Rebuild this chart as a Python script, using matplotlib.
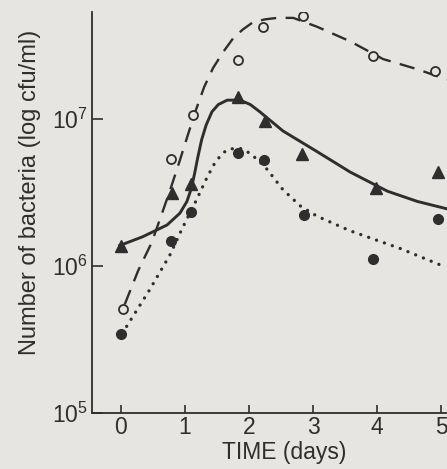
import numpy as np
import matplotlib
matplotlib.use("Agg")
from matplotlib import pyplot as plt

plt.rcParams['font.family'] = ['Liberation Sans', 'DejaVu Sans']
plt.rcParams['mathtext.default'] = 'regular'

# measured points (days, log10 cfu/ml)
t_open = [0.03, 0.78, 1.13, 1.83, 2.22, 2.85, 3.94, 4.9]
log_open = [5.71, 6.73, 7.03, 7.40, 7.63, 7.70, 7.43, 7.33]

t_tri = [0.0, 0.8, 1.09, 1.83, 2.25, 2.83, 3.98, 4.95]
log_tri = [6.14, 6.50, 6.56, 7.15, 6.99, 6.76, 6.53, 6.64]

t_dot = [0.0, 0.78, 1.1, 1.83, 2.23, 2.86, 3.94, 4.95]
log_dot = [5.54, 6.17, 6.37, 6.77, 6.72, 6.35, 6.05, 6.32]

# fitted curves as drawn in the figure
t_fit_open = [0.06, 0.27, 0.48, 0.61, 0.77, 0.92, 1.05, 1.16, 1.30, 1.44, 1.60, 1.75, 1.90, 2.06, 2.25,
              2.44, 2.69, 3.06, 3.58, 4.09, 4.63, 5.09]
log_fit_open = [5.74, 5.97, 6.16, 6.32, 6.52, 6.72, 6.90, 7.05, 7.22, 7.35, 7.46, 7.55, 7.61, 7.66, 7.68,
                7.69, 7.69, 7.63, 7.53, 7.41, 7.34, 7.27]

t_fit_tri = [-0.02, 0.34, 0.72, 0.92, 1.03, 1.10, 1.15, 1.20, 1.26, 1.33, 1.42, 1.52, 1.66, 1.86, 2.02,
             2.17, 2.53, 3.06, 3.58, 4.16, 4.63, 5.09]
log_fit_tri = [6.14, 6.20, 6.28, 6.36, 6.44, 6.53, 6.63, 6.74, 6.86, 6.96, 7.05, 7.10, 7.13, 7.13, 7.10,
               7.05, 6.92, 6.78, 6.64, 6.51, 6.44, 6.39]

t_fit_dot = [0.09, 0.45, 0.77, 0.95, 1.19, 1.34, 1.45, 1.55, 1.65, 1.75, 1.87, 1.97, 2.12, 2.28, 2.53,
             2.80, 3.06, 3.58, 4.36, 5.03]
log_fit_dot = [5.59, 5.84, 6.08, 6.25, 6.46, 6.60, 6.69, 6.75, 6.79, 6.80, 6.80, 6.78, 6.73, 6.66, 6.52,
               6.41, 6.34, 6.24, 6.12, 6.00]

ink = '#2e2e2e'
bg = '#e6e5e2'

fig = plt.figure(figsize=(4.47, 4.69), dpi=100, facecolor=bg)
ax = fig.add_axes([0.206, 0.1194, 0.794, 0.855])
ax.set_facecolor(bg)

ax.plot(t_fit_open, 10 ** np.array(log_fit_open), color=ink, lw=1.7, dashes=(6.5, 4))
ax.plot(t_fit_tri, 10 ** np.array(log_fit_tri), color=ink, lw=2.1)
ax.plot(t_fit_dot, 10 ** np.array(log_fit_dot), color=ink, lw=2.4, linestyle=(0, (0.01, 2.5)),
        dash_capstyle='round')

ax.plot(t_open, 10 ** np.array(log_open), 'o', ms=6.5, mfc=bg, mec=ink, mew=1.3)
ax.plot(t_tri, 10 ** np.array(log_tri), '^', ms=8, color=ink)
ax.plot(t_dot, 10 ** np.array(log_dot), 'o', ms=7, color=ink)

ax.set_yscale('log')
ax.set_xlim(-0.45, 5.09)
ax.set_ylim(1e5, 10 ** 7.73)
ax.set_yticks([1e5, 1e6, 1e7])
ax.set_yticklabels(['$10^5$', '$10^6$', '$10^7$'])
ax.yaxis.set_minor_locator(matplotlib.ticker.NullLocator())
ax.set_xticks([0, 1, 2, 3, 4, 5])

ax.spines['top'].set_visible(False)
ax.spines['right'].set_visible(False)
for s in ['left', 'bottom']:
    ax.spines[s].set_color(ink)
    ax.spines[s].set_linewidth(1.3)

ax.tick_params(axis='y', direction='in', length=8, width=1.2, colors=ink, labelsize=16.5, pad=3)
ax.tick_params(axis='x', direction='in', length=6, width=1.2, colors=ink, labelsize=16.5, pad=2)

ax.set_xlabel('TIME (days)', fontsize=16.5, color=ink)
ax.xaxis.set_label_coords(0.54, -0.07, transform=ax.transAxes)
ax.xaxis.label.set_va('top')
ax.set_ylabel('Number of bacteria (log cfu/ml)', fontsize=17, color=ink)
ax.yaxis.set_label_coords(-0.145, 0.55)

fig.savefig('out.png', dpi=100, facecolor=bg)
